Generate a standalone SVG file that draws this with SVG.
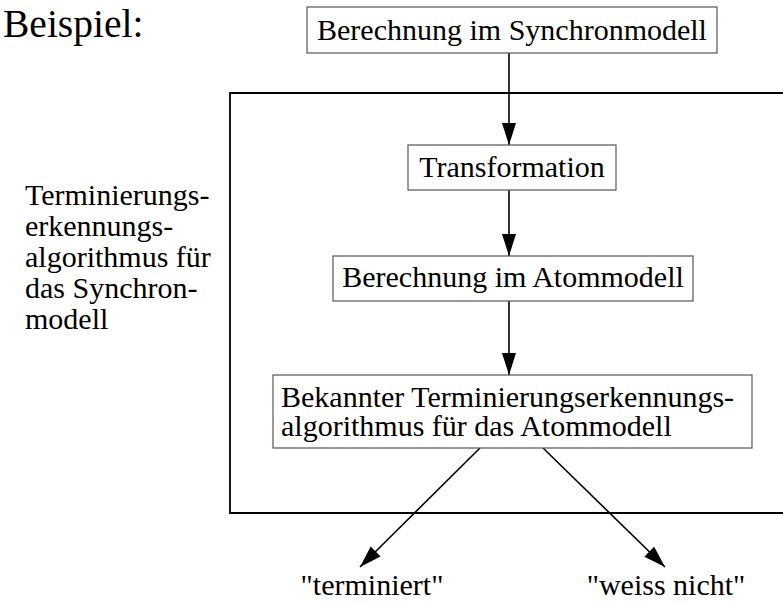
<svg xmlns="http://www.w3.org/2000/svg" width="783" height="606" viewBox="0 0 783 606">
<style>
text{font-family:"Liberation Serif","Times New Roman",serif;font-size:30px;fill:#000}
.box{fill:#fff;stroke:#555;stroke-width:1.2}
.edge{stroke:#000;stroke-width:1.6;fill:none}
</style>
<defs>
<marker id="ah" markerUnits="userSpaceOnUse" markerWidth="24" markerHeight="16" refX="22" refY="7" orient="auto">
<path d="M0,0 L22,7 L0,14 z" fill="#000"/>
</marker>
</defs>
<rect width="783" height="606" fill="#fff"/>
<text x="3" y="37" style="font-size:39.5px">Beispiel:</text>
<g id="frame">
<path d="M790,93 H230 V513 H790" fill="none" stroke="#000" stroke-width="1.8"/>
<text x="25" y="205">Terminierungs-</text>
<text x="25" y="236">erkennungs-</text>
<text x="25" y="267">algorithmus für</text>
<text x="25" y="298">das Synchron-</text>
<text x="25" y="329">modell</text>
</g>
<g id="edges">
<line class="edge" x1="509" y1="53" x2="509" y2="145" marker-end="url(#ah)"/>
<line class="edge" x1="509" y1="190" x2="509" y2="256" marker-end="url(#ah)"/>
<line class="edge" x1="509" y1="301" x2="509" y2="375" marker-end="url(#ah)"/>
<line class="edge" x1="480" y1="448" x2="360" y2="567" marker-end="url(#ah)"/>
<line class="edge" x1="543" y1="448" x2="665" y2="567" marker-end="url(#ah)"/>
</g>
<g id="n1">
<rect class="box" x="307" y="7" width="410" height="46"/>
<text x="512" y="40" text-anchor="middle">Berechnung im Synchronmodell</text>
</g>
<g id="n2">
<rect class="box" x="408" y="145" width="208" height="45"/>
<text x="512" y="177" text-anchor="middle">Transformation</text>
</g>
<g id="n3">
<rect class="box" x="333" y="256" width="360" height="45"/>
<text x="513" y="287" text-anchor="middle">Berechnung im Atommodell</text>
</g>
<g id="n4">
<rect class="box" x="273" y="375" width="479" height="73"/>
<text x="281" y="407">Bekannter Terminierungserkennungs-</text>
<text x="281" y="436">algorithmus für das Atommodell</text>
</g>
<g id="out1">
<text x="372" y="595" text-anchor="middle">"terminiert"</text>
</g>
<g id="out2">
<text x="666" y="595" text-anchor="middle">"weiss nicht"</text>
</g>
</svg>
